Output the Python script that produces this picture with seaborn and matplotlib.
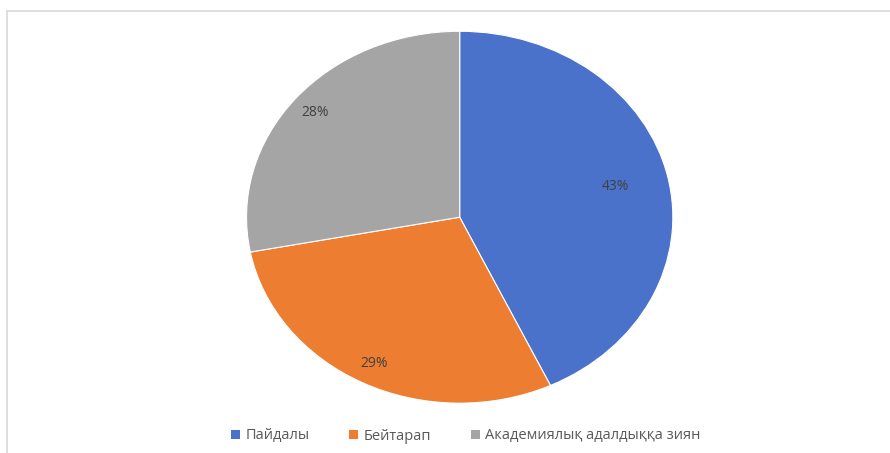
import matplotlib
matplotlib.use("Agg")
import numpy as np
import matplotlib.pyplot as plt
import seaborn as sns
import pandas as pd
from matplotlib.lines import Line2D
from matplotlib.patches import Patch

sns.set_style("white")
plt.rcParams['font.family'] = ['Open Sans', 'DejaVu Sans']

categories = ['Пайдалы', 'Бейтарап', 'Академиялық адалдыққа зиян']
shares = [43, 29, 28]
colors = ['#4A72CB', '#ED7D31', '#A5A5A5']

data = pd.DataFrame({'category': categories, 'share': shares})

fig = plt.figure(figsize=(8.9, 4.53), dpi=100)
ax = fig.add_axes([0.277, 0.110, 0.479, 0.821])

wedges, texts, autotexts = ax.pie(
    data['share'], colors=colors, startangle=90, counterclock=False,
    autopct=lambda p: f'{p:.0f}%', pctdistance=0.74,
    wedgeprops=dict(edgecolor='white', linewidth=0.8),
    textprops=dict(fontsize=10, color='#404040'))
ax.set_aspect('auto')
ax.set_xlim(-1, 1)
ax.set_ylim(-1, 1)
ax.axis('off')

# label distances as in the original (Excel "best fit")
label_dist = [0.75, 0.88, 0.88]
for w, t, d in zip(wedges, autotexts, label_dist):
    ang = np.deg2rad((w.theta1 + w.theta2) / 2)
    t.set_position((d * np.cos(ang), d * np.sin(ang)))

# frame of the original chart area
fig.add_artist(Line2D([7/890, 1], [1 - 11/453, 1 - 11/453], color='#D9D9D9', lw=1.2))
fig.add_artist(Line2D([7/890, 7/890], [0, 1 - 11/453], color='#D9D9D9', lw=1.2))

handles = [Patch(facecolor=c, edgecolor='none') for c in colors]
fig.legend(handles, data['category'], loc='center', bbox_to_anchor=(466/890, 1 - 436/453),
           ncol=3, frameon=False, fontsize=10.5, labelcolor='#595959',
           handlelength=0.6, handleheight=0.6, handletextpad=0.4, columnspacing=2.7)

fig.savefig('out.png', dpi=100)
